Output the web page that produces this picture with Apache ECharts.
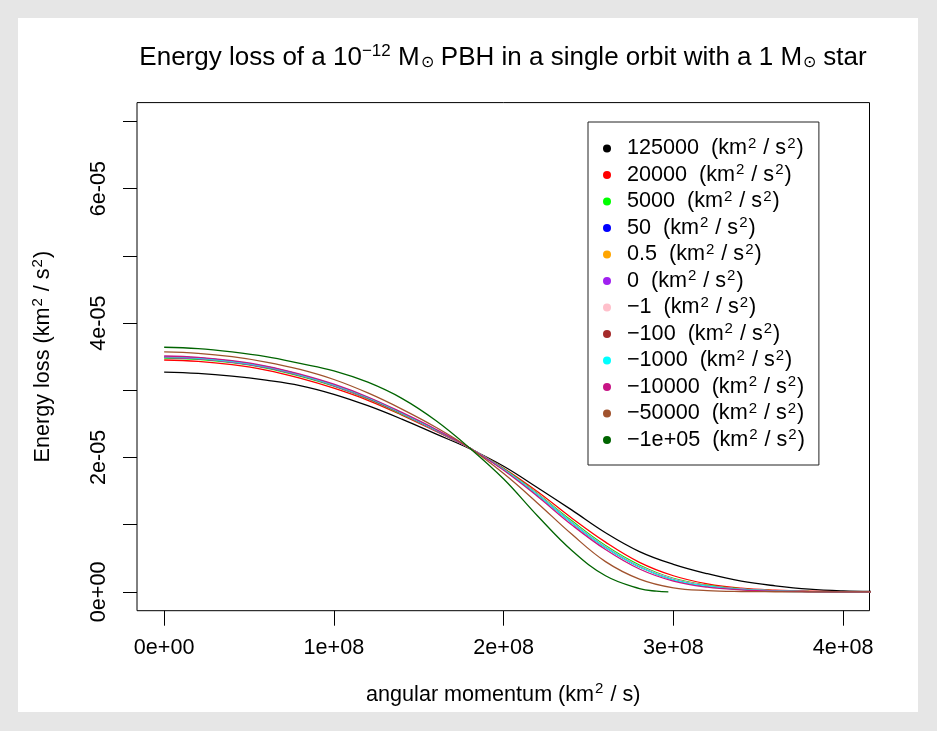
<!DOCTYPE html>
<html>
<head>
<meta charset="utf-8">
<script src="https://cdn.jsdelivr.net/npm/echarts@6/dist/echarts.min.js"></script>
<style>
  html, body { margin: 0; padding: 0; background: #e6e6e6; }
  #frame { position: absolute; left: 18px; top: 18px; width: 900px; height: 694px; background: #ffffff; }
  #chart { position: absolute; left: 0; top: 0; width: 937px; height: 731px; }
</style>
</head>
<body>
<div id="frame"></div>
<div id="chart"></div>
<script>
// ---- data (x in units of 1e8 km^2/s, y in units of 1e-5 km^2/s^2) ----
const seriesNames = ['125000', '20000', '5000', '50', '0.5', '0', '\u22121', '\u2212100', '\u22121000', '\u221210000', '\u221250000', '\u22121e+05'];
const seriesColors = ['#000000', '#ff0000', '#00ff00', '#0000ff', '#ffa500', '#a020f0', '#ffc0cb', '#a52a2a', '#00ffff', '#c71585', '#a0522d', '#006400'];

const L = [0, 0.2, 0.4, 0.6, 0.8, 1.0, 1.2, 1.4, 1.6, 1.8, 2.0, 2.2, 2.4, 2.6, 2.8, 3.0, 3.2, 3.4, 3.6, 3.8, 4.0, 4.2];
const L_neg1e5 = [0, 0.2, 0.4, 0.6, 0.8, 1.0, 1.2, 1.4, 1.6, 1.8, 2.0, 2.2, 2.4, 2.6, 2.8, 2.9, 2.97];

const E_125000 = [3.27, 3.25, 3.21, 3.15, 3.07, 2.94, 2.77, 2.57, 2.35, 2.13, 1.87, 1.55, 1.22, 0.88, 0.60, 0.41, 0.27, 0.16, 0.09, 0.04, 0.015, 0.005];
const E_20000  = [3.45, 3.43, 3.38, 3.30, 3.18, 3.03, 2.85, 2.63, 2.39, 2.14, 1.84, 1.49, 1.10, 0.74, 0.44, 0.24, 0.12, 0.055, 0.025, 0.01, 0.004, 0.001];
const E_5000   = [3.48, 3.46, 3.41, 3.33, 3.21, 3.06, 2.87, 2.64, 2.40, 2.14, 1.83, 1.46, 1.06, 0.69, 0.40, 0.20, 0.10, 0.045, 0.018, 0.007, 0.002, 0];
const E_50     = [3.49, 3.47, 3.42, 3.34, 3.22, 3.07, 2.88, 2.65, 2.40, 2.14, 1.82, 1.45, 1.04, 0.67, 0.38, 0.19, 0.09, 0.04, 0.015, 0.005, 0.001, 0];
const E_0p5    = [3.49, 3.47, 3.42, 3.34, 3.22, 3.07, 2.88, 2.65, 2.40, 2.14, 1.82, 1.45, 1.04, 0.67, 0.38, 0.19, 0.09, 0.04, 0.015, 0.005, 0.001, 0];
const E_0      = [3.49, 3.47, 3.42, 3.34, 3.22, 3.07, 2.88, 2.65, 2.40, 2.14, 1.82, 1.45, 1.04, 0.67, 0.38, 0.19, 0.09, 0.04, 0.015, 0.005, 0.001, 0];
const E_m1     = [3.50, 3.48, 3.43, 3.35, 3.23, 3.08, 2.88, 2.65, 2.40, 2.14, 1.82, 1.45, 1.04, 0.67, 0.38, 0.19, 0.09, 0.04, 0.015, 0.005, 0.001, 0];
const E_m100   = [3.50, 3.48, 3.43, 3.35, 3.23, 3.08, 2.88, 2.65, 2.40, 2.14, 1.82, 1.44, 1.03, 0.66, 0.37, 0.18, 0.085, 0.037, 0.014, 0.005, 0.001, 0];
const E_m1000  = [3.50, 3.48, 3.43, 3.35, 3.23, 3.08, 2.89, 2.66, 2.41, 2.14, 1.82, 1.44, 1.03, 0.66, 0.37, 0.18, 0.085, 0.036, 0.013, 0.004, 0.001, 0];
const E_m10000 = [3.51, 3.49, 3.44, 3.36, 3.24, 3.09, 2.90, 2.67, 2.42, 2.14, 1.81, 1.42, 1.00, 0.63, 0.34, 0.16, 0.07, 0.03, 0.01, 0.003, 0.001, 0];
const E_m50000 = [3.57, 3.55, 3.50, 3.42, 3.31, 3.16, 2.96, 2.72, 2.45, 2.14, 1.76, 1.32, 0.86, 0.45, 0.19, 0.06, 0.02, 0.006, 0.002, 0, 0, 0];
const E_m1e5   = [3.64, 3.62, 3.57, 3.50, 3.40, 3.29, 3.12, 2.88, 2.55, 2.14, 1.68, 1.13, 0.62, 0.24, 0.05, 0.01, 0];

const seriesValues = [E_125000, E_20000, E_5000, E_50, E_0p5, E_0, E_m1, E_m100, E_m1000, E_m10000, E_m50000, E_m1e5];
const seriesX = [L, L, L, L, L, L, L, L, L, L, L, L_neg1e5];

const xTickValues = [0, 1e8, 2e8, 3e8, 4e8];
const xTickLabels = ['0e+00', '1e+08', '2e+08', '3e+08', '4e+08'];
const yTickValues = [0, 1e-5, 2e-5, 3e-5, 4e-5, 5e-5, 6e-5, 7e-5];
const yLabelValues = [0, 2e-5, 4e-5, 6e-5];
const yLabelTexts = ['0e+00', '2e-05', '4e-05', '6e-05'];

// ---- chart ----
const FONT = 'Liberation Sans, Arial, Helvetica, sans-serif';
const BASE = 21.6;
const chart = echarts.init(document.getElementById('chart'), null, { renderer: 'canvas' });

function labelFor(values, texts, v) {
  const i = values.findIndex(t => Math.abs(t - v) <= Math.abs(t) * 1e-6 + 1e-20);
  return i >= 0 ? texts[i] : '';
}

const supStyle = { fontSize: 15, fontFamily: FONT, fontWeight: 'normal', color: '#000', verticalAlign: 'top', lineHeight: 12, padding: [0, 1, 5, 1] };
const mainStyle = { fontSize: BASE, fontFamily: FONT, fontWeight: 'normal', color: '#000', lineHeight: 26 };

const series = seriesValues.map((vals, k) => ({
  name: seriesNames[k],
  type: 'line',
  data: vals.map((v, i) => [seriesX[k][i] * 1e8, v * 1e-5]),
  showSymbol: false,
  smooth: 0.4,
  lineStyle: { color: seriesColors[k], width: 1.3 },
  itemStyle: { color: seriesColors[k] },
  emphasis: { disabled: true },
  animation: false,
  clip: true
}));

const option = {
  animation: false,
  backgroundColor: 'transparent',
  title: {
    text: '{t|Energy loss of a 10}{sup|\u221212}{t| M}{sub|\u2299}{t| PBH in a single orbit with a 1 M}{sub|\u2299}{t| star}',
    left: 498,
    textAlign: 'center',
    top: 38,
    textStyle: {
      fontWeight: 'normal',
      rich: {
        t: { fontSize: 26, fontFamily: FONT, fontWeight: 'normal', color: '#000', lineHeight: 30 },
        sup: { fontSize: 17, fontFamily: FONT, fontWeight: 'normal', color: '#000', verticalAlign: 'top', lineHeight: 14 },
        sub: { fontSize: 16, fontFamily: FONT, fontWeight: 'normal', color: '#000', verticalAlign: 'bottom', lineHeight: 12, padding: [0, 0, 2, 1] }
      }
    }
  },
  grid: {
    left: 137, right: 67.5, top: 102.6, bottom: 120.3,
    show: true, borderColor: '#000', borderWidth: 1, backgroundColor: 'transparent',
    containLabel: false
  },
  xAxis: {
    type: 'value',
    min: -0.16e8, max: 4.155e8,
    splitLine: { show: false },
    axisLine: { show: false, onZero: false },
    axisTick: { show: true, inside: false, length: 15, customValues: xTickValues, lineStyle: { color: '#000', width: 1 } },
    axisLabel: {
      show: true, margin: 26, customValues: xTickValues,
      fontSize: BASE, fontFamily: FONT, color: '#000',
      formatter: v => labelFor(xTickValues, xTickLabels, v)
    },
    name: '{t|angular momentum (km}{sup|2}{t| / s)}',
    nameLocation: 'middle',
    nameGap: 71,
    nameTextStyle: { rich: { t: mainStyle, sup: supStyle } }
  },
  yAxis: {
    type: 'value',
    min: -0.28e-5, max: 7.28e-5,
    splitLine: { show: false },
    axisLine: { show: false, onZero: false },
    axisTick: { show: true, inside: false, length: 14, customValues: yTickValues, lineStyle: { color: '#000', width: 1 } },
    axisLabel: {
      show: true, margin: 27, rotate: 90, customValues: yLabelValues,
      fontSize: BASE, fontFamily: FONT, color: '#000',
      formatter: v => labelFor(yLabelValues, yLabelTexts, v)
    },
    name: '{t|Energy loss (km}{sup|2}{t| / s}{sup|2}{t|)}',
    nameLocation: 'middle',
    nameRotate: 90,
    nameGap: 81,
    nameTextStyle: { rich: { t: mainStyle, sup: supStyle } }
  },
  legend: {
    show: true,
    orient: 'vertical',
    left: 588, top: 122,
    padding: [14, 14, 14, 15],
    borderColor: '#222', borderWidth: 1,
    backgroundColor: '#fff',
    itemWidth: 8, itemHeight: 8, itemGap: 3,
    icon: 'circle',
    selectedMode: false,
    data: seriesNames,
    formatter: name => '{g|}{t|' + name + '  (km}{sup|2}{t| / s}{sup|2}{t|)}',
    textStyle: {
      rich: {
        g: { width: 11, lineHeight: 25 },
        t: { fontSize: BASE, fontFamily: FONT, color: '#000', lineHeight: 25 },
        sup: { fontSize: 15, fontFamily: FONT, color: '#000', verticalAlign: 'top', lineHeight: 12, padding: [0, 1, 5, 1] }
      }
    }
  },
  series: series
};

chart.setOption(option);
</script>
</body>
</html>
